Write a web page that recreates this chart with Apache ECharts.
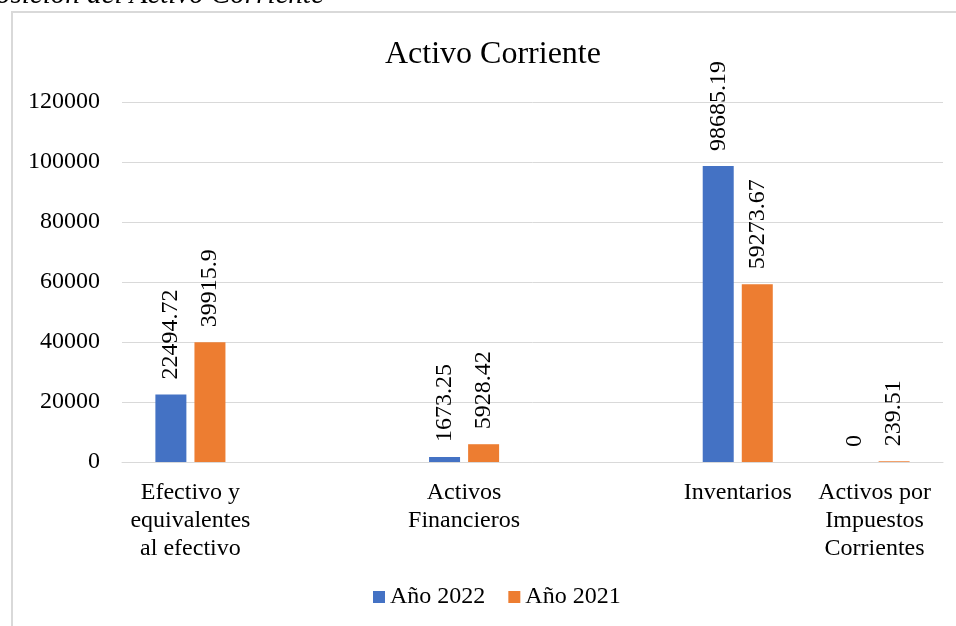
<!DOCTYPE html>
<html>
<head>
<meta charset="utf-8">
<script src="https://cdn.jsdelivr.net/npm/echarts@6/dist/echarts.min.js"></script>
<style>
html,body{margin:0;padding:0;background:#fff;}
#chart{width:956px;height:626px;}
</style>
</head>
<body>
<div id="chart"></div>
<script>
const categories = [
  "Efectivo y\nequivalentes\nal efectivo",
  "",
  "Activos\nFinancieros",
  "",
  "Inventarios",
  "Activos por\nImpuestos\nCorrientes"
];
const seriesNames = ["Año 2022", "Año 2021"];
const values2022 = [22494.72, null, 1673.25, null, 98685.19, 0];
const values2021 = [39915.9, null, 5928.42, null, 59273.67, 239.51];
const yTicks = { min: 0, max: 120000, interval: 20000 };
const chartTitle = "Activo Corriente";
const captionText = "osición del Activo Corriente";

const FONT = '"Liberation Serif", "Times New Roman", serif';
const chart = echarts.init(document.getElementById('chart'));

const labelCfg = {
  show: true,
  position: 'top',
  rotate: 90,
  align: 'left',
  verticalAlign: 'middle',
  distance: 15,
  fontFamily: FONT,
  fontSize: 24,
  color: '#000',
  formatter: p => String(p.value)
};

chart.setOption({
  animation: false,
  textStyle: { fontFamily: FONT },
  graphic: [
    {
      type: 'rect', silent: true, z: -1,
      shape: { x: 12, y: 12, width: 960, height: 700 },
      style: { fill: '#fff', stroke: '#d9d9d9', lineWidth: 2 }
    },
    {
      type: 'text', left: -4, top: -19, silent: true,
      style: { text: captionText, font: 'italic 29px ' + FONT, fill: '#000' }
    }
  ],
  title: {
    text: chartTitle,
    left: 380, top: 34,
    textStyle: { fontFamily: FONT, fontSize: 32, fontWeight: 'normal', color: '#000' }
  },
  legend: {
    data: seriesNames,
    left: 373, top: 585, padding: 0,
    itemWidth: 12, itemHeight: 12, itemGap: 23,
    icon: 'rect',
    textStyle: { fontFamily: FONT, fontSize: 24, color: '#000' }
  },
  grid: { left: 122, right: 13, top: 102, bottom: 164 },
  xAxis: {
    type: 'category',
    data: categories,
    axisTick: { show: false },
    axisLine: { lineStyle: { color: '#d9d9d9', width: 1 } },
    axisLabel: {
      interval: 0, margin: 17,
      fontFamily: FONT, fontSize: 24, color: '#000', lineHeight: 28
    }
  },
  yAxis: {
    type: 'value',
    min: yTicks.min, max: yTicks.max, interval: yTicks.interval,
    axisLine: { show: false },
    axisTick: { show: false },
    splitLine: { lineStyle: { color: '#d9d9d9', width: 1 } },
    axisLabel: {
      margin: 22, fontFamily: FONT, fontSize: 24, color: '#000',
      formatter: v => String(v)
    }
  },
  series: [
    {
      name: seriesNames[0], type: 'bar', data: values2022,
      barWidth: 31, barGap: '26%',
      itemStyle: { color: '#4472C4' },
      label: labelCfg
    },
    {
      name: seriesNames[1], type: 'bar', data: values2021,
      barWidth: 31,
      itemStyle: { color: '#ED7D31' },
      label: labelCfg
    }
  ]
});
</script>
</body>
</html>
